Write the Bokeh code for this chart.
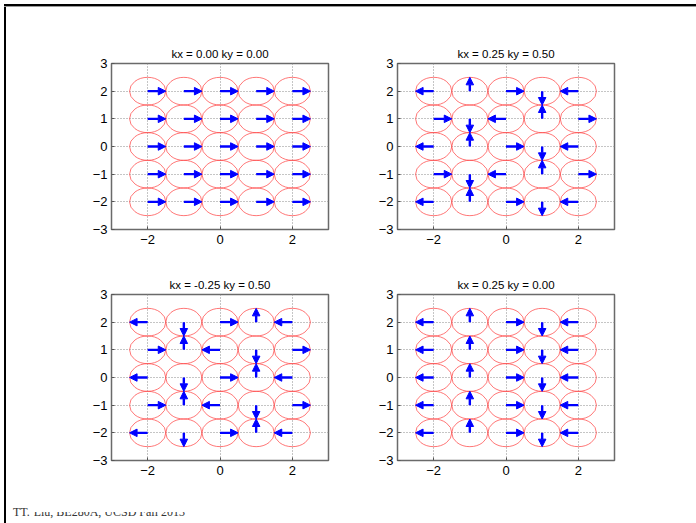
from bokeh.plotting import figure
from bokeh.models import ColumnDataSource, Arrow, NormalHead, FixedTicker, Div, Spacer, Range1d
from bokeh.layouts import row, column
from bokeh.embed import file_html
from bokeh.resources import INLINE

# Lattice of spins: columns left to right, rows listed from top to bottom
grid_x = [-2, -1, 0, 1, 2]
grid_y = [2, 1, 0, -1, -2]

titles = [
    "kx = 0.00 ky = 0.00",
    "kx = 0.25 ky = 0.50",
    "kx = -0.25 ky = 0.50",
    "kx = 0.25 ky = 0.00",
]

# Spin direction in each cell (R=right, L=left, U=up, D=down), one string per row
dirs_a = ["RRRRR", "RRRRR", "RRRRR", "RRRRR", "RRRRR"]
dirs_b = ["LURDL", "RDLUR", "LURDL", "RDLUR", "LURDL"]
dirs_c = ["LDRUL", "RULDR", "LDRUL", "RULDR", "LDRUL"]
dirs_d = ["LURDL", "LURDL", "LURDL", "LURDL", "LURDL"]

x_ticks = [-2, 0, 2]
y_ticks = [-3, -2, -1, 0, 1, 2, 3]
axis_limits = (-3, 3)
arrow_len = 0.5
circle_diam = 1.0

footer_head = "TT."
footer_tail = "Liu, BE280A, UCSD Fall 2013"

UNIT = {"R": (1, 0), "L": (-1, 0), "U": (0, 1), "D": (0, -1)}
SANS = "Liberation Sans"


def make_panel(title, dirs, bl, br, bt, bb):
    p = figure(
        frame_width=217, frame_height=166,
        min_border_left=bl, min_border_right=br,
        min_border_top=bt, min_border_bottom=bb,
        x_range=Range1d(*axis_limits), y_range=Range1d(*axis_limits),
        toolbar_location=None, output_backend="svg", title=title,
    )
    p.title.align = "center"
    p.title.text_font = SANS
    p.title.text_font_style = "normal"
    p.title.text_font_size = "11.5px"
    p.title.text_color = "black"
    p.title.standoff = 8

    p.xaxis.ticker = FixedTicker(ticks=x_ticks)
    p.yaxis.ticker = FixedTicker(ticks=y_ticks)
    for ax in (p.xaxis, p.yaxis):
        ax.major_label_text_font = SANS
        ax.major_label_text_font_size = "13px"
        ax.major_label_text_color = "black"
        ax.axis_line_color = None
        ax.major_tick_in = 3
        ax.major_tick_out = 0
        ax.major_tick_line_color = "#555555"
        ax.minor_tick_line_color = None
    p.xaxis.major_label_standoff = 5
    p.yaxis.major_label_standoff = 4

    p.grid.grid_line_color = "#8a8a8a"
    p.grid.grid_line_dash = "1 2"
    p.grid.grid_line_width = 1
    p.outline_line_color = "#6a6a6a"
    p.outline_line_width = 1.5
    p.background_fill_color = "white"
    p.border_fill_color = "white"

    xs, ys, xe, ye = [], [], [], []
    for yv, line in zip(grid_y, dirs):
        for xv, d in zip(grid_x, line):
            ux, uy = UNIT[d]
            xs.append(xv)
            ys.append(yv)
            xe.append(xv + arrow_len * ux)
            ye.append(yv + arrow_len * uy)

    p.ellipse(x=xs, y=ys, width=circle_diam, height=circle_diam,
              fill_color=None, line_color="#ff4a4a", line_width=1, line_alpha=0.75)

    src = ColumnDataSource(dict(x0=xs, y0=ys, x1=xe, y1=ye))
    p.add_layout(Arrow(
        end=NormalHead(size=7.5, fill_color="#0000ff", line_color="#0000ff", line_width=1),
        x_start="x0", y_start="y0", x_end="x1", y_end="y1", source=src,
        line_color="#0000ff", line_width=2.4,
    ))
    return p


pa = make_panel(titles[0], dirs_a, 105, 34, 56, 32)
pb = make_panel(titles[1], dirs_b, 35, 82, 56, 32)
pc = make_panel(titles[2], dirs_c, 105, 34, 33, 27)
pd = make_panel(titles[3], dirs_d, 35, 82, 33, 27)

# slide footer: everything after "TT." only shows its lower part
font_css = "font-family:'Liberation Serif';font-size:12px;line-height:12px;color:#333;white-space:nowrap;"
footer_html = (
    '<div style="position:relative;width:690px;height:32px;overflow:hidden;">'
    f'<span style="position:absolute;left:7px;top:18.5px;{font_css}">{footer_head}</span>'
    '<div style="position:absolute;left:27px;top:25px;width:660px;height:7px;overflow:hidden;">'
    f'<span style="position:absolute;left:0.7px;top:-6.5px;{font_css}">{footer_tail}</span>'
    '</div></div>'
)
footer_div = Div(text=footer_html, width=690, height=32, margin=0)

content = column(row(pa, pb), row(pc, pd), footer_div)

top_bar = Div(width=692, height=2, margin=0, styles={"background-color": "black"})
top_gray = Div(width=692, height=1, margin=0, styles={"background-color": "#9a9a9a"})
left_bar = Div(width=2, height=516, margin=0, styles={"background-color": "black"})

page = column(
    Spacer(width=696, height=4),
    row(Spacer(width=4, height=516),
        column(top_bar, top_gray, row(left_bar, content))),
)

with open("out.html", "w") as f:
    f.write(file_html(page, INLINE))
